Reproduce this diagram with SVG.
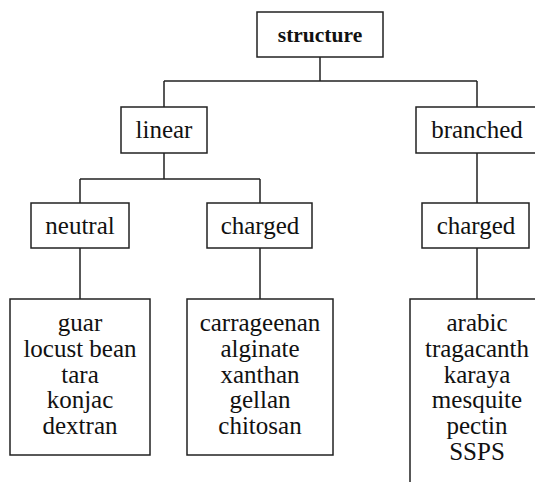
<svg xmlns="http://www.w3.org/2000/svg" width="535" height="482" viewBox="0 0 535 482">
  <style>
    rect { fill: #fff; stroke: #222; stroke-width: 1.5; }
    .wire { fill: none; stroke: #222; stroke-width: 1.5; }
    text { font-family: "Liberation Serif", "Times New Roman", serif; font-size: 25px; fill: #111; text-anchor: middle; }
    .bold { font-weight: bold; font-size: 21.5px; }
  </style>
  <rect x="0" y="0" width="535" height="482" style="fill:#fff;stroke:none"/>
  <g id="connectors">
    <path class="wire" d="M320 57 V81 M164 81 H477 M164 81 V107 M477 81 V107"/>
    <path class="wire" d="M164 153 V179 M80 179 H260 M80 179 V203 M260 179 V203"/>
    <path class="wire" d="M477 153 V203 M477 248 V299"/>
    <path class="wire" d="M80 248 V299 M260 248 V299"/>
  </g>
  <g id="structure">
    <rect x="257" y="12" width="126" height="45"/>
    <text class="bold" x="320" y="42">structure</text>
  </g>
  <g id="linear">
    <rect x="121" y="107" width="86" height="46"/>
    <text x="164" y="138">linear</text>
  </g>
  <g id="branched">
    <rect x="416" y="107" width="122" height="46"/>
    <text x="477" y="138">branched</text>
  </g>
  <g id="neutral">
    <rect x="31" y="203" width="98" height="45"/>
    <text x="80" y="234">neutral</text>
  </g>
  <g id="charged-linear">
    <rect x="207" y="203" width="105" height="45"/>
    <text x="260" y="234">charged</text>
  </g>
  <g id="charged-branched">
    <rect x="422" y="203" width="107" height="45"/>
    <text x="476" y="234">charged</text>
  </g>
  <g id="neutral-list">
    <rect x="10" y="299" width="140" height="156"/>
    <text x="80" y="331">guar</text>
    <text x="80" y="357">locust bean</text>
    <text x="80" y="383">tara</text>
    <text x="80" y="408">konjac</text>
    <text x="80" y="434">dextran</text>
  </g>
  <g id="charged-linear-list">
    <rect x="187" y="299" width="146" height="156"/>
    <text x="260" y="331">carrageenan</text>
    <text x="260" y="357">alginate</text>
    <text x="260" y="383">xanthan</text>
    <text x="260" y="408">gellan</text>
    <text x="260" y="434">chitosan</text>
  </g>
  <g id="branched-list">
    <rect x="410" y="299" width="140" height="200"/>
    <text x="477" y="331">arabic</text>
    <text x="477" y="357">tragacanth</text>
    <text x="477" y="383">karaya</text>
    <text x="477" y="408">mesquite</text>
    <text x="477" y="434">pectin</text>
    <text x="477" y="460">SSPS</text>
  </g>
</svg>
